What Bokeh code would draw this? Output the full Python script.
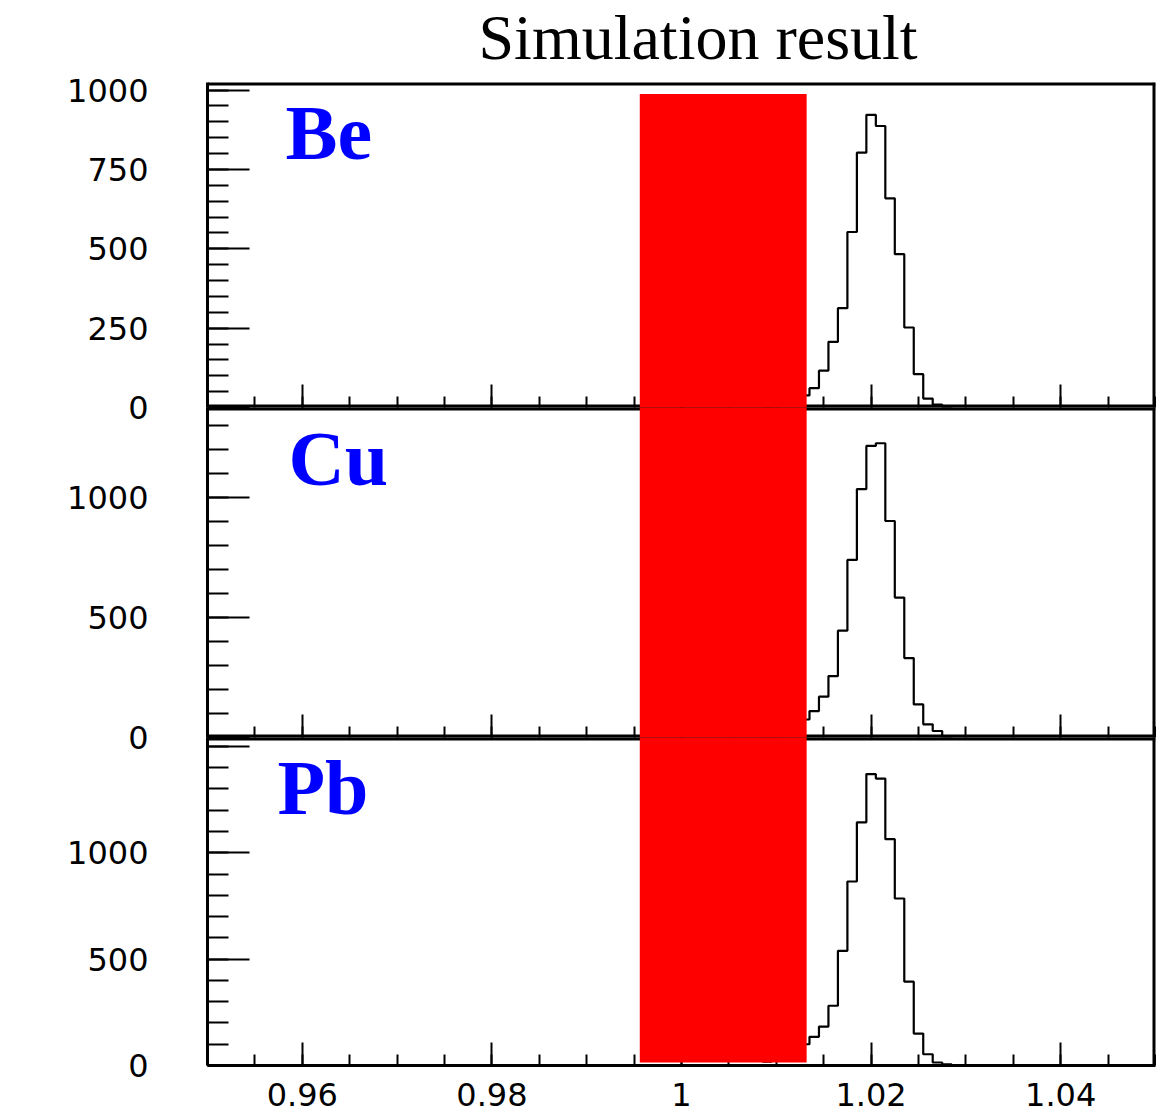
import numpy as np
from bokeh.plotting import figure
from bokeh.models import Range1d, FixedTicker, Label, BoxAnnotation
from bokeh.layouts import column
from bokeh.embed import file_html
from bokeh.resources import INLINE

# ---------------- data ----------------
bin_centers = [1.009, 1.010, 1.011, 1.012, 1.013, 1.014, 1.015, 1.016, 1.017, 1.018,
               1.019, 1.020, 1.021, 1.022, 1.023, 1.024, 1.025, 1.026, 1.027, 1.028]
bin_width = 0.001
be_counts = [3, 6, 12, 22, 38, 61, 116, 207, 313, 553,
             803, 922, 887, 659, 483, 252, 105, 28, 9, 2]
cu_counts = [5, 12, 25, 45, 75, 110, 170, 256, 445, 740,
             1035, 1215, 1226, 902, 583, 331, 138, 55, 27, 4]
pb_counts = [18, 30, 45, 70, 100, 135, 183, 281, 539, 865,
             1143, 1370, 1349, 1064, 785, 394, 150, 53, 14, 5]

x_ticks = [0.96, 0.98, 1.0, 1.02, 1.04]
x_tick_labels = ["0.96", "0.98", "1", "1.02", "1.04"]
x_minor = [round(0.95 + 0.005 * k, 3) for k in range(21)]

panel_names = ["Be", "Cu", "Pb"]
panel_ymax = [1024, 1375, 1542]
y_major = [[0, 250, 500, 750, 1000], [0, 500, 1000], [0, 500, 1000, 1500]]
y_major_labels = [["0", "250", "500", "750", "1000"], ["0", "500", "1000"], ["0", "500", "1000", ""]]
y_minor_step = [50, 100, 100]

# red band (masked region)
band_left, band_right = 0.9956, 1.0132
band_top_first = 988      # in first panel
band_bottom_last = 14     # in last panel

# panel text positions (data units of each panel)
name_x = [0.95823, 0.95854, 0.95738]
name_y = [867, 1163, 1309]

all_counts = [be_counts, cu_counts, pb_counts]

# ---------------- layout ----------------
M = 24
TOP = 96          # room for the title
SHIFT = 14        # first figure pulled up so its frame starts at y = 82
frame_h = [325, 330, 328]
top_b = [TOP, M, M]
bot_b = [M, M, 47]

TLW = 2        # tick width
HLW = 2.2      # histogram width
EDGE = 6       # frame edge (half of it is visible inside the frame)

figs = []
for i in range(3):
    h = top_b[i] + frame_h[i] + bot_b[i]
    ymax = panel_ymax[i]
    p = figure(width=1156, height=h,
               x_range=Range1d(0.95, 1.05), y_range=Range1d(0, ymax),
               output_backend="svg", toolbar_location=None, tools="",
               min_border_left=207, min_border_right=1,
               min_border_top=top_b[i], min_border_bottom=bot_b[i],
               background_fill_color=None, border_fill_color=None,
               outline_line_color=None)
    p.grid.visible = False

    # frame edges (clipped to the frame, so only the inner half shows)
    p.hspan(y=[ymax], line_color="black", line_width=EDGE)
    p.vspan(x=[1.05], line_color="black", line_width=EDGE)
    if i < 2:
        p.hspan(y=[0], line_color="black", line_width=EDGE)

    # histogram
    counts = all_counts[i]
    xs = [c - bin_width / 2 for c in bin_centers] + [bin_centers[-1] + bin_width / 2]
    ys = list(counts) + [0]
    p.step(xs, ys, mode="after", line_color="black", line_width=HLW)

    # x axis
    xa = p.xaxis[0]
    xa.ticker = FixedTicker(ticks=x_ticks, minor_ticks=x_minor)
    xa.axis_line_width = 3
    xa.major_tick_line_width = TLW
    xa.minor_tick_line_width = TLW
    xa.major_tick_in = 23
    xa.major_tick_out = 0
    xa.minor_tick_in = 11
    xa.minor_tick_out = 0
    xa.major_label_text_font = "DejaVu Sans"
    xa.major_label_text_color = "black"
    if i == 2:
        xa.major_label_text_font_size = "32px"
        xa.major_label_standoff = 17
        xa.major_label_overrides = dict(zip(x_ticks, x_tick_labels))
    else:
        xa.axis_line_color = None
        xa.major_label_text_font_size = "1px"
        xa.major_label_standoff = 0
        xa.major_label_overrides = {t: "" for t in x_ticks}

    # y axis
    ya = p.yaxis[0]
    minors = [v for v in range(0, int(ymax) + 1, y_minor_step[i])]
    ya.ticker = FixedTicker(ticks=y_major[i], minor_ticks=minors)
    ya.axis_line_width = 3
    ya.major_tick_line_width = TLW
    ya.minor_tick_line_width = TLW
    ya.major_tick_in = 42
    ya.major_tick_out = 0
    ya.minor_tick_in = 21
    ya.minor_tick_out = 0
    ya.major_label_text_font = "DejaVu Sans"
    ya.major_label_text_font_size = "32px"
    ya.major_label_text_color = "black"
    ya.major_label_standoff = 59
    ya.major_label_overrides = dict(zip(y_major[i], y_major_labels[i]))

    # red band
    top = band_top_first if i == 0 else ymax * 3
    bottom = band_bottom_last if i == 2 else -ymax
    p.add_layout(BoxAnnotation(left=band_left, right=band_right, bottom=bottom, top=top,
                               fill_color="#ff0000", fill_alpha=1.0, line_color=None,
                               level="overlay"))

    # element label
    p.add_layout(Label(x=name_x[i], y=name_y[i], text=panel_names[i],
                       text_font="Liberation Serif", text_font_style="bold",
                       text_font_size="78px", text_color="#0000ff",
                       text_align="left", text_baseline="alphabetic"))

    if i == 0:
        p.title.text = "Simulation result"
        p.title.text_font = "Liberation Serif"
        p.title.text_font_style = "normal"
        p.title.text_font_size = "64px"
        p.title.text_color = "black"
        p.title.align = "left"
        p.title.offset = 271
        p.title.standoff = 20
        p.margin = (-SHIFT, 0, 0, 0)
    else:
        p.margin = (-2 * M, 0, 0, 0)
    figs.append(p)

layout = column(*figs, spacing=0)
open("out.html", "w").write(file_html(layout, INLINE))
